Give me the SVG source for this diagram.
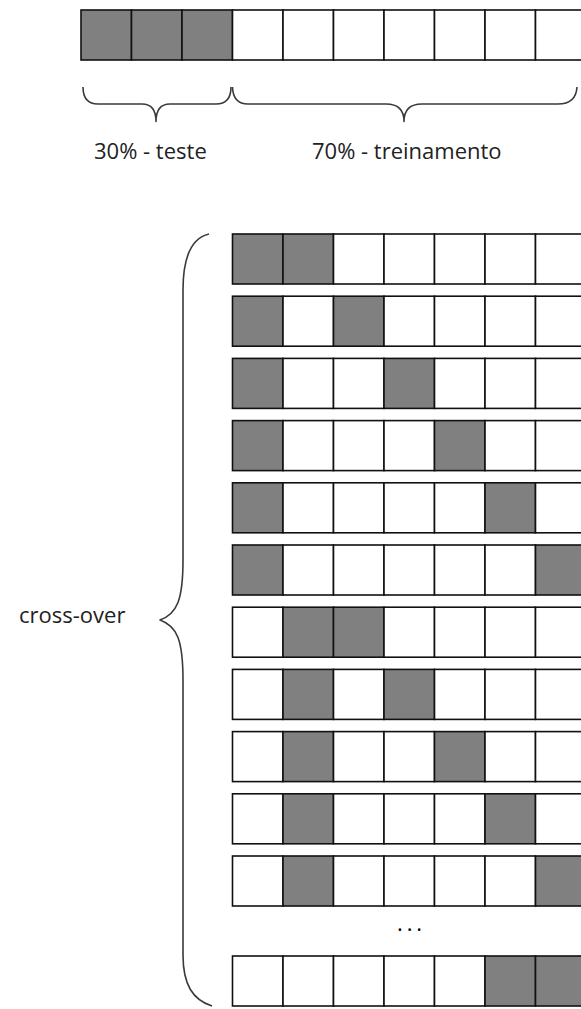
<svg xmlns="http://www.w3.org/2000/svg" width="581" height="1009" viewBox="0 0 581 1009">
<defs>
<style>
.c{fill:#ffffff;stroke:#111111;stroke-width:1.6}
.g{fill:#808080;stroke:#111111;stroke-width:1.6}
.br{fill:none;stroke:#3a3a3a;stroke-width:1.6;stroke-linejoin:round}
.t{font-family:"Open Sans","DejaVu Sans",sans-serif;font-size:22px;fill:#222222}
</style>
</defs>
<rect width="581" height="1009" fill="#ffffff"/>
<g id="row-top">
<rect class="g" x="81" y="10" width="50.5" height="50"/>
<rect class="g" x="131.5" y="10" width="50.5" height="50"/>
<rect class="g" x="182" y="10" width="50.5" height="50"/>
<rect class="c" x="232.5" y="10" width="50.5" height="50"/>
<rect class="c" x="283" y="10" width="50.5" height="50"/>
<rect class="c" x="333.5" y="10" width="50.5" height="50"/>
<rect class="c" x="384" y="10" width="50.5" height="50"/>
<rect class="c" x="434.5" y="10" width="50.5" height="50"/>
<rect class="c" x="485" y="10" width="50.5" height="50"/>
<rect class="c" x="535.5" y="10" width="50.5" height="50"/>
</g>
<g id="connectors">
<path class="br" d="M83,87 Q83,104 98,104 L142,104 Q156,104 156,121.5 Q156,104 170,104 L216,104 Q231,104 231,87"/>
<path class="br" d="M232.5,87 Q233,104 248,104 L386,104 Q404,104 404,121.5 Q404,104 422,104 L558,104 Q576,104 577,87"/>
<path class="br" d="M209,234 C192,238 183,255 183,290 L183,560 C183,600 177,614 160,620 C177,626 183,640 183,680 L183,955 C183,985 193,1000 212,1006"/>
</g>
<g id="label-teste"><text class="t" x="94" y="159">30% - teste</text></g>
<g id="label-treinamento"><text class="t" x="312" y="159">70% - treinamento</text></g>
<g id="label-crossover"><text class="t" x="19" y="623">cross-over</text></g>
<g id="row-1" transform="translate(0,234)">
<rect class="g" x="232.5" y="0" width="50.5" height="50"/><rect class="g" x="283" y="0" width="50.5" height="50"/><rect class="c" x="333.5" y="0" width="50.5" height="50"/><rect class="c" x="384" y="0" width="50.5" height="50"/><rect class="c" x="434.5" y="0" width="50.5" height="50"/><rect class="c" x="485" y="0" width="50.5" height="50"/><rect class="c" x="535.5" y="0" width="50.5" height="50"/>
</g>
<g id="row-2" transform="translate(0,296.2)">
<rect class="g" x="232.5" y="0" width="50.5" height="50"/><rect class="c" x="283" y="0" width="50.5" height="50"/><rect class="g" x="333.5" y="0" width="50.5" height="50"/><rect class="c" x="384" y="0" width="50.5" height="50"/><rect class="c" x="434.5" y="0" width="50.5" height="50"/><rect class="c" x="485" y="0" width="50.5" height="50"/><rect class="c" x="535.5" y="0" width="50.5" height="50"/>
</g>
<g id="row-3" transform="translate(0,358.4)">
<rect class="g" x="232.5" y="0" width="50.5" height="50"/><rect class="c" x="283" y="0" width="50.5" height="50"/><rect class="c" x="333.5" y="0" width="50.5" height="50"/><rect class="g" x="384" y="0" width="50.5" height="50"/><rect class="c" x="434.5" y="0" width="50.5" height="50"/><rect class="c" x="485" y="0" width="50.5" height="50"/><rect class="c" x="535.5" y="0" width="50.5" height="50"/>
</g>
<g id="row-4" transform="translate(0,420.6)">
<rect class="g" x="232.5" y="0" width="50.5" height="50"/><rect class="c" x="283" y="0" width="50.5" height="50"/><rect class="c" x="333.5" y="0" width="50.5" height="50"/><rect class="c" x="384" y="0" width="50.5" height="50"/><rect class="g" x="434.5" y="0" width="50.5" height="50"/><rect class="c" x="485" y="0" width="50.5" height="50"/><rect class="c" x="535.5" y="0" width="50.5" height="50"/>
</g>
<g id="row-5" transform="translate(0,482.8)">
<rect class="g" x="232.5" y="0" width="50.5" height="50"/><rect class="c" x="283" y="0" width="50.5" height="50"/><rect class="c" x="333.5" y="0" width="50.5" height="50"/><rect class="c" x="384" y="0" width="50.5" height="50"/><rect class="c" x="434.5" y="0" width="50.5" height="50"/><rect class="g" x="485" y="0" width="50.5" height="50"/><rect class="c" x="535.5" y="0" width="50.5" height="50"/>
</g>
<g id="row-6" transform="translate(0,545)">
<rect class="g" x="232.5" y="0" width="50.5" height="50"/><rect class="c" x="283" y="0" width="50.5" height="50"/><rect class="c" x="333.5" y="0" width="50.5" height="50"/><rect class="c" x="384" y="0" width="50.5" height="50"/><rect class="c" x="434.5" y="0" width="50.5" height="50"/><rect class="c" x="485" y="0" width="50.5" height="50"/><rect class="g" x="535.5" y="0" width="50.5" height="50"/>
</g>
<g id="row-7" transform="translate(0,607.2)">
<rect class="c" x="232.5" y="0" width="50.5" height="50"/><rect class="g" x="283" y="0" width="50.5" height="50"/><rect class="g" x="333.5" y="0" width="50.5" height="50"/><rect class="c" x="384" y="0" width="50.5" height="50"/><rect class="c" x="434.5" y="0" width="50.5" height="50"/><rect class="c" x="485" y="0" width="50.5" height="50"/><rect class="c" x="535.5" y="0" width="50.5" height="50"/>
</g>
<g id="row-8" transform="translate(0,669.4)">
<rect class="c" x="232.5" y="0" width="50.5" height="50"/><rect class="g" x="283" y="0" width="50.5" height="50"/><rect class="c" x="333.5" y="0" width="50.5" height="50"/><rect class="g" x="384" y="0" width="50.5" height="50"/><rect class="c" x="434.5" y="0" width="50.5" height="50"/><rect class="c" x="485" y="0" width="50.5" height="50"/><rect class="c" x="535.5" y="0" width="50.5" height="50"/>
</g>
<g id="row-9" transform="translate(0,731.6)">
<rect class="c" x="232.5" y="0" width="50.5" height="50"/><rect class="g" x="283" y="0" width="50.5" height="50"/><rect class="c" x="333.5" y="0" width="50.5" height="50"/><rect class="c" x="384" y="0" width="50.5" height="50"/><rect class="g" x="434.5" y="0" width="50.5" height="50"/><rect class="c" x="485" y="0" width="50.5" height="50"/><rect class="c" x="535.5" y="0" width="50.5" height="50"/>
</g>
<g id="row-10" transform="translate(0,793.8)">
<rect class="c" x="232.5" y="0" width="50.5" height="50"/><rect class="g" x="283" y="0" width="50.5" height="50"/><rect class="c" x="333.5" y="0" width="50.5" height="50"/><rect class="c" x="384" y="0" width="50.5" height="50"/><rect class="c" x="434.5" y="0" width="50.5" height="50"/><rect class="g" x="485" y="0" width="50.5" height="50"/><rect class="c" x="535.5" y="0" width="50.5" height="50"/>
</g>
<g id="row-11" transform="translate(0,856)">
<rect class="c" x="232.5" y="0" width="50.5" height="50"/><rect class="g" x="283" y="0" width="50.5" height="50"/><rect class="c" x="333.5" y="0" width="50.5" height="50"/><rect class="c" x="384" y="0" width="50.5" height="50"/><rect class="c" x="434.5" y="0" width="50.5" height="50"/><rect class="c" x="485" y="0" width="50.5" height="50"/><rect class="g" x="535.5" y="0" width="50.5" height="50"/>
</g>
<g id="ellipsis"><text class="t" x="397" y="931" style="letter-spacing:3.9px;fill:#000">...</text></g>
<g id="row-last" transform="translate(0,956)">
<rect class="c" x="232.5" y="0" width="50.5" height="50"/><rect class="c" x="283" y="0" width="50.5" height="50"/><rect class="c" x="333.5" y="0" width="50.5" height="50"/><rect class="c" x="384" y="0" width="50.5" height="50"/><rect class="c" x="434.5" y="0" width="50.5" height="50"/><rect class="g" x="485" y="0" width="50.5" height="50"/><rect class="g" x="535.5" y="0" width="50.5" height="50"/>
</g>
</svg>
